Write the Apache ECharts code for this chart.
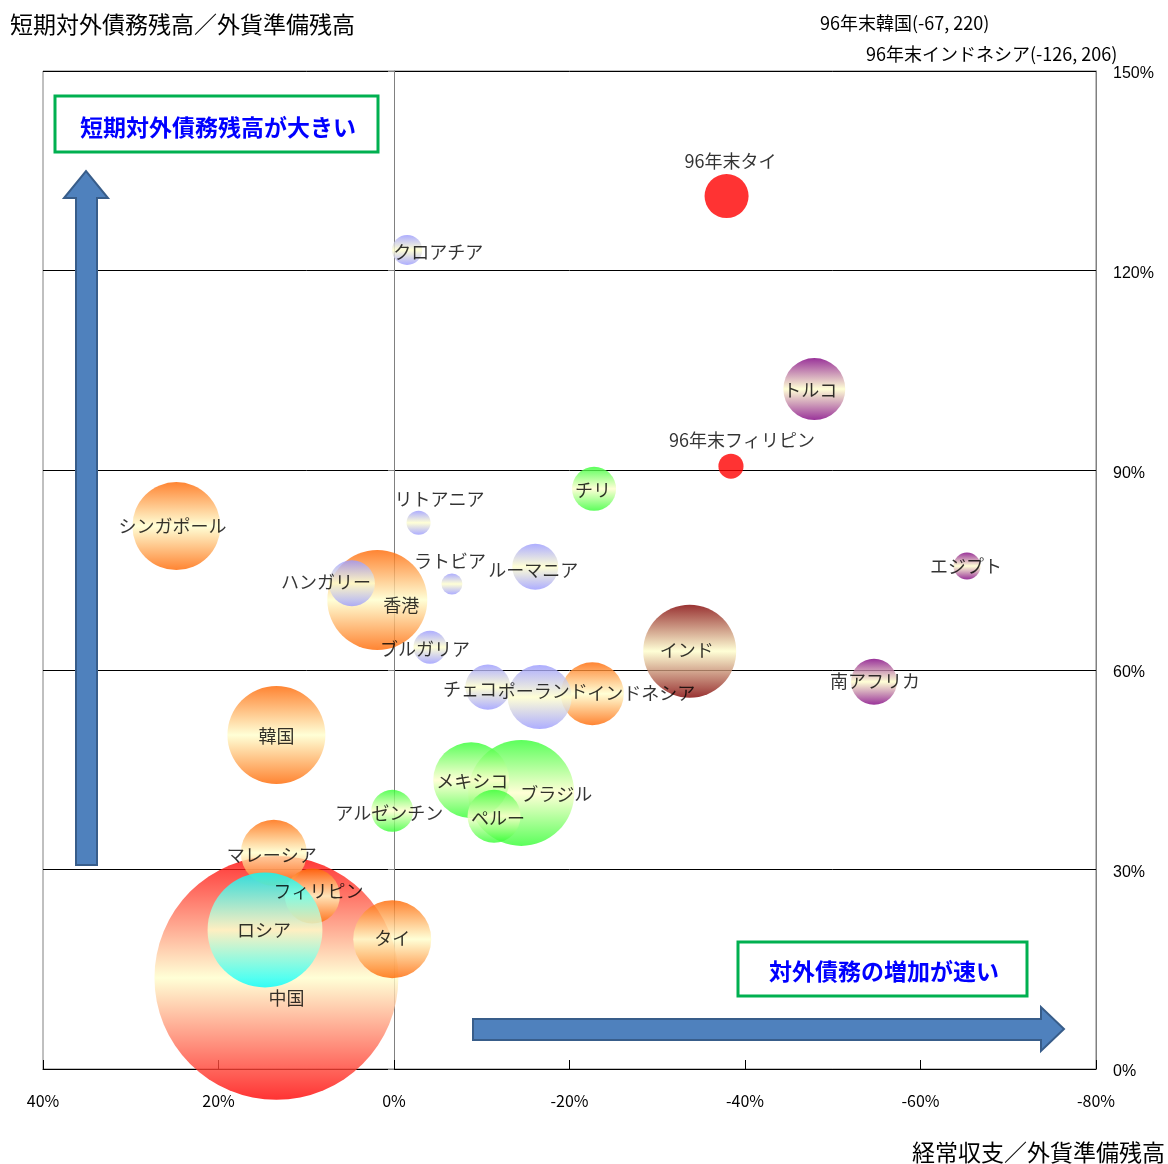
<!DOCTYPE html>
<html>
<head>
<meta charset="utf-8">
<script src="https://cdn.jsdelivr.net/npm/echarts@6/dist/echarts.min.js"></script>
<style>
  html, body { margin: 0; padding: 0; background: #fff; }
  #chart { width: 1168px; height: 1164px; }
</style>
</head>
<body>
<div id="chart"></div>
<script>
// 国・地域名（描画順：先に並ぶものほど下に描かれる）
const countries = [
  '中国', 'マレーシア', 'フィリピン', 'ロシア', 'タイ', '韓国', 'シンガポール', '香港',
  'インドネシア', 'インド', 'ブラジル', 'メキシコ', 'ペルー', 'アルゼンチン', 'チリ',
  'チェコ', 'ポーランド', 'ハンガリー', 'ブルガリア', 'ルーマニア', 'ラトビア', 'リトアニア', 'クロアチア',
  'トルコ', '南アフリカ', 'エジプト', '96年末タイ', '96年末フィリピン'
];
// 地域区分（塗り分け用）
const regions = [
  'china', 'asia', 'asia', 'russia', 'asia', 'asia', 'asia', 'asia',
  'asia', 'india', 'latam', 'latam', 'latam', 'latam', 'latam',
  'europe', 'europe', 'europe', 'europe', 'europe', 'europe', 'europe', 'europe',
  'mea', 'mea', 'mea', 'past', 'past'
];
// 経常収支／外貨準備残高（%）
const currentAccountRatio = [
  13.4, 13.7, 9.3, 14.7, 0.2, 13.4, 24.8, 1.9,
  -22.6, -33.7, -14.5, -8.8, -11.4, 0.2, -22.8,
  -10.7, -16.6, 4.8, -4.1, -16.1, -6.6, -2.8, -1.5,
  -47.9, -54.7, -65.3, -37.9, -38.4
];
// 短期対外債務残高／外貨準備残高（%）
const shortDebtRatio = [
  13.7, 32.5, 26.0, 20.9, 19.5, 50.2, 81.6, 70.5,
  56.4, 62.8, 41.5, 43.4, 38.0, 38.8, 87.2,
  57.4, 55.9, 73.0, 63.4, 75.5, 72.9, 82.1, 123.1,
  102.2, 58.2, 75.6, 131.2, 90.6
];
// バブルの大きさ（面積に比例）
const bubbleSize = [
  595, 43.6, 30.3, 132, 60.8, 96, 77.4, 100,
  39.7, 86.5, 112.4, 57.8, 28.1, 17.6, 19.4,
  20.3, 41, 21.2, 10.9, 21.2, 4.4, 5.8, 9,
  38.4, 21.2, 7.3, 19.4, 6.3
];
// 軸の範囲外にある参考値
const offScaleNames = ['96年末韓国', '96年末インドネシア'];
const offScaleX = [-67, -126];
const offScaleY = [220, 206];

// ラベルの位置調整（px）
const labelOffset = {
  '96年末タイ': [4, -35], '96年末フィリピン': [11, -26], 'クロアチア': [31, 2],
  'トルコ': [-4, 1], 'チリ': [-1, 1], 'リトアニア': [21, -24], 'シンガポール': [-4, 0],
  'ラトビア': [-2, -23], 'ルーマニア': [-2, 3], 'エジプト': [-1, 0], 'ハンガリー': [-26, -1],
  '香港': [24, 5], 'ブルガリア': [-5, 2], 'インド': [-3, -1], '南アフリカ': [1, -1],
  'チェコ': [-18, 2], 'ポーランド': [3, -6], 'インドネシア': [49, -1], '韓国': [0, 1],
  'メキシコ': [1, 1], 'ブラジル': [35, 1], 'ペルー': [4, 2], 'アルゼンチン': [-3, 2],
  'マレーシア': [-2, 2], 'フィリピン': [6, -5], 'ロシア': [-1, 0], '中国': [10, 20], 'タイ': [0, -1]
};

const CREAM = '#FFFFCC';
const edgeColor = {
  china: '#FF0000', asia: '#FF6600', russia: '#00FFFF', india: '#800000',
  latam: '#33FF33', europe: '#9999FF', mea: '#800080'
};
function fillFor(region) {
  if (region === 'past') return '#FF0000';
  const edge = edgeColor[region];
  return {
    type: 'linear', x: 0, y: 0, x2: 0, y2: 1,
    colorStops: [
      { offset: 0, color: edge },
      { offset: 0.5, color: CREAM },
      { offset: 1, color: edge }
    ]
  };
}

const SIZE_SCALE = 10;
const bubbleData = countries.map((name, i) => ({
  name,
  value: [currentAccountRatio[i], shortDebtRatio[i], bubbleSize[i]],
  itemStyle: { color: fillFor(regions[i]) }
}));
const labelData = countries.map((name, i) => ({
  name,
  value: [currentAccountRatio[i], shortDebtRatio[i]]
}));

const JP = '"Noto Sans CJK JP", "Noto Sans", sans-serif';

const chart = echarts.init(document.getElementById('chart'), null, { renderer: 'canvas' });

chart.setOption({
  animation: false,
  backgroundColor: '#fff',
  grid: {
    left: 43, top: 71, right: 72, bottom: 95,
    show: true, borderColor: '#808080', borderWidth: 1, backgroundColor: 'transparent'
  },
  xAxis: {
    type: 'value', min: -80, max: 40, interval: 20, inverse: true, position: 'bottom',
    axisLine: { show: true, onZero: false, lineStyle: { color: '#000', width: 1 } },
    axisTick: { show: true, inside: true, length: 9, lineStyle: { color: '#000' } },
    axisLabel: { formatter: v => v + '%', fontSize: 16, color: '#000', margin: 24, fontFamily: JP },
    splitLine: { show: false }
  },
  yAxis: [
    {
      type: 'value', min: 0, max: 150, interval: 30, position: 'right',
      axisLine: { show: true, onZero: false, lineStyle: { color: '#808080' } },
      axisTick: { show: false },
      axisLabel: {
        formatter: v => v + '%', fontSize: 16, color: '#000', margin: 17, align: 'left',
        verticalAlign: 'top', lineHeight: 6,
        fontFamily: '"Liberation Sans", Arial, sans-serif'
      },
      splitLine: { show: true, lineStyle: { color: '#000', width: 1 } }
    },
    {
      type: 'value', min: 0, max: 150, interval: 30, position: 'left',
      axisLine: { show: true, onZero: true, lineStyle: { color: '#808080' } },
      axisTick: { show: true, length: 6, lineStyle: { color: '#808080' } },
      axisLabel: { show: false },
      splitLine: { show: false }
    }
  ],
  series: [
    {
      type: 'scatter', silent: true, z: 2,
      symbol: 'circle',
      symbolSize: v => Math.sqrt(v[2]) * SIZE_SCALE,
      data: bubbleData,
      label: { show: false }
    },
    {
      type: 'scatter', silent: true, z: 5,
      symbolSize: 1,
      itemStyle: { color: 'transparent' },
      data: labelData,
      label: {
        show: true, position: 'inside', formatter: p => p.name,
        fontSize: 18, color: '#000', fontFamily: JP
      },
      labelLayout: p => {
        const off = labelOffset[countries[p.dataIndex]] || [0, 0];
        return { dx: off[0], dy: off[1], hideOverlap: false };
      }
    }
  ],
  graphic: [
    // 縦軸タイトル
    { type: 'text', left: 10, top: 13, style: { text: '短期対外債務残高／外貨準備残高', font: '23px ' + JP, fill: '#000' } },
    // 横軸タイトル
    { type: 'text', right: 3, top: 1141, style: { text: '経常収支／外貨準備残高', font: '23px ' + JP, fill: '#000' } },
    // 範囲外の参考値
    { type: 'text', left: 820, top: 14, style: { text: offScaleNames[0] + '(' + offScaleX[0] + ', ' + offScaleY[0] + ')', font: '18px ' + JP, fill: '#000' } },
    { type: 'text', left: 866, top: 45, style: { text: offScaleNames[1] + '(' + offScaleX[1] + ', ' + offScaleY[1] + ')', font: '18px ' + JP, fill: '#000' } },
    // 説明枠（上）
    { type: 'rect', shape: { x: 55, y: 96, width: 323, height: 56 }, style: { fill: '#fff', stroke: '#00B050', lineWidth: 3 }, z: 10 },
    { type: 'text', x: 218, y: 127, style: { text: '短期対外債務残高が大きい', font: 'bold 23px ' + JP, fill: '#0000FF', align: 'center', verticalAlign: 'middle' }, z: 11 },
    // 説明枠（右下）
    { type: 'rect', shape: { x: 738, y: 942, width: 289, height: 54 }, style: { fill: '#fff', stroke: '#00B050', lineWidth: 3 }, z: 10 },
    { type: 'text', x: 884, y: 971, style: { text: '対外債務の増加が速い', font: 'bold 23px ' + JP, fill: '#0000FF', align: 'center', verticalAlign: 'middle' }, z: 11 },
    // 上向き矢印
    {
      type: 'polygon', z: 10,
      shape: { points: [[76, 865], [97, 865], [97, 198], [108, 198], [86, 171], [64, 198], [76, 198]] },
      style: { fill: '#4F81BD', stroke: '#385D8A', lineWidth: 2 }
    },
    // 右向き矢印
    {
      type: 'polygon', z: 10,
      shape: { points: [[473, 1019], [1041, 1019], [1041, 1007], [1064, 1029], [1041, 1051], [1041, 1040], [473, 1040]] },
      style: { fill: '#4F81BD', stroke: '#385D8A', lineWidth: 2 }
    }
  ]
});
</script>
</body>
</html>
